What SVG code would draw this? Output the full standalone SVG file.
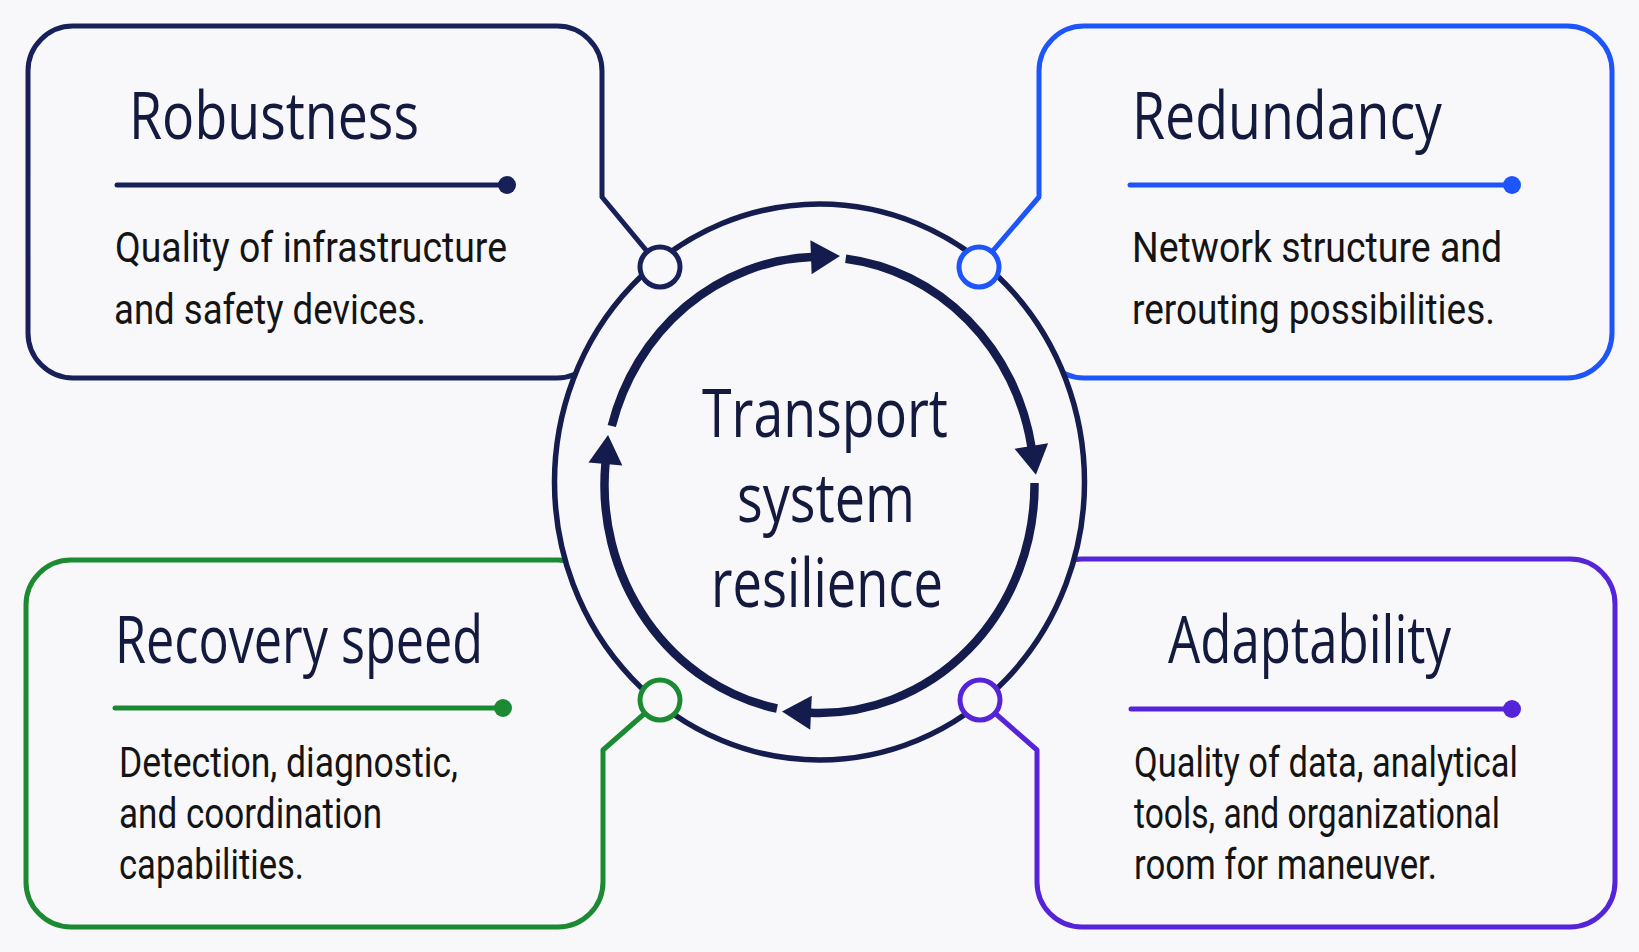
<svg xmlns="http://www.w3.org/2000/svg" width="1639" height="952" viewBox="0 0 1639 952">
<defs>
<style>
.bx{fill:none;stroke-width:5;stroke-linejoin:round;stroke-linecap:round}
.div{stroke-width:5;stroke-linecap:round}
.node{fill:#f8f8fa;stroke-width:5}
.title{font-family:"Open Sans","Noto Sans","Liberation Sans",sans-serif;font-size:66px;fill:#141a3e}
.desc{font-family:Roboto,"Liberation Sans",sans-serif;font-size:43px;fill:#141414}
.ctr{font-family:"Open Sans","Noto Sans","Liberation Sans",sans-serif;font-size:67px;fill:#141a3e}
.arc{fill:none;stroke:#141b4d;stroke-width:8.5;marker-end:url(#ah)}
</style>
<marker id="ah" markerUnits="userSpaceOnUse" markerWidth="40" markerHeight="40" refX="1" refY="0" orient="auto" overflow="visible">
<path d="M0,-17 L29,0 L0,17 Z" fill="#141b4d"/>
</marker>
</defs>
<rect x="0" y="0" width="1639" height="952" fill="#f8f8fa"/>

<g id="robustness">
<path class="bx" stroke="#172058" d="M602,333 A45,45 0 0 1 557,378 L73,378 A45,45 0 0 1 28,333 L28,71 A45,45 0 0 1 73,26 L557,26 A45,45 0 0 1 602,71 L602,197 L660,267"/>
<text class="title" x="129" y="139" textLength="290" lengthAdjust="spacingAndGlyphs">Robustness</text>
<line class="div" stroke="#172058" x1="117" y1="185" x2="505" y2="185"/>
<circle cx="507" cy="185" r="9" fill="#172058"/>
<text class="desc" x="115" y="262" textLength="392" lengthAdjust="spacingAndGlyphs">Quality of infrastructure</text>
<text class="desc" x="114" y="324" textLength="312" lengthAdjust="spacingAndGlyphs">and safety devices.</text>
</g>

<g id="redundancy">
<path class="bx" stroke="#1d55fb" d="M979,267 L1039,197 L1039,71 A45,45 0 0 1 1084,26 L1567,26 A45,45 0 0 1 1612,71 L1612,333 A45,45 0 0 1 1567,378 L1084,378 A45,45 0 0 1 1039,333"/>
<text class="title" x="1132" y="139" textLength="310" lengthAdjust="spacingAndGlyphs">Redundancy</text>
<line class="div" stroke="#1d55fb" x1="1130" y1="185" x2="1510" y2="185"/>
<circle cx="1512" cy="185" r="9" fill="#1d55fb"/>
<text class="desc" x="1132" y="262" textLength="370" lengthAdjust="spacingAndGlyphs">Network structure and</text>
<text class="desc" x="1132" y="324" textLength="363" lengthAdjust="spacingAndGlyphs">rerouting possibilities.</text>
</g>

<g id="recovery">
<path class="bx" stroke="#1c8a33" d="M660,700 L603,750 L603,882 A45,45 0 0 1 558,927 L71,927 A45,45 0 0 1 26,882 L26,605 A45,45 0 0 1 71,560 L558,560 A45,45 0 0 1 603,605"/>
<text class="title" x="115" y="663" textLength="368" lengthAdjust="spacingAndGlyphs">Recovery speed</text>
<line class="div" stroke="#1c8a33" x1="115" y1="708" x2="501" y2="708"/>
<circle cx="503" cy="708" r="9" fill="#1c8a33"/>
<text class="desc" x="119" y="777" textLength="339" lengthAdjust="spacingAndGlyphs">Detection, diagnostic,</text>
<text class="desc" x="119" y="828" textLength="263" lengthAdjust="spacingAndGlyphs">and coordination</text>
<text class="desc" x="119" y="879" textLength="185" lengthAdjust="spacingAndGlyphs">capabilities.</text>
</g>

<g id="adaptability">
<path class="bx" stroke="#5624d8" d="M980,700 L1037,750 L1037,882 A45,45 0 0 0 1082,927 L1570,927 A45,45 0 0 0 1615,882 L1615,604 A45,45 0 0 0 1570,559 L1082,559 A45,45 0 0 0 1037,604"/>
<text class="title" x="1168" y="663" textLength="283" lengthAdjust="spacingAndGlyphs">Adaptability</text>
<line class="div" stroke="#5624d8" x1="1131" y1="709" x2="1510" y2="709"/>
<circle cx="1512" cy="709" r="9" fill="#5624d8"/>
<text class="desc" x="1134" y="777" textLength="384" lengthAdjust="spacingAndGlyphs">Quality of data, analytical</text>
<text class="desc" x="1134" y="828" textLength="366" lengthAdjust="spacingAndGlyphs">tools, and organizational</text>
<text class="desc" x="1134" y="879" textLength="303" lengthAdjust="spacingAndGlyphs">room for maneuver.</text>
</g>

<g id="center">
<ellipse cx="819.5" cy="482" rx="265" ry="278" fill="#f8f8fa" stroke="#151c4e" stroke-width="5.5"/>
<text class="ctr" x="825" y="437" text-anchor="middle" textLength="246" lengthAdjust="spacingAndGlyphs">Transport</text>
<text class="ctr" x="826" y="522" text-anchor="middle" textLength="178" lengthAdjust="spacingAndGlyphs">system</text>
<text class="ctr" x="827" y="607" text-anchor="middle" textLength="232" lengthAdjust="spacingAndGlyphs">resilience</text>
</g>

<g id="connectors">
<path class="arc" d="M611.8,426 A215,228 0 0 1 812,257.1"/>
<path class="arc" d="M845.7,258.7 A215,228 0 0 1 1031.5,447"/>
<path class="arc" d="M1034.5,483 A215,228 0 0 1 810,712.8"/>
<path class="arc" d="M777,708.5 A215,228 0 0 1 605.5,463"/>
<circle class="node" cx="660" cy="267" r="20" stroke="#172058"/>
<circle class="node" cx="979" cy="267" r="20" stroke="#1d55fb"/>
<circle class="node" cx="660" cy="700" r="20" stroke="#1c8a33"/>
<circle class="node" cx="980" cy="700" r="20" stroke="#5624d8"/>
</g>
</svg>
